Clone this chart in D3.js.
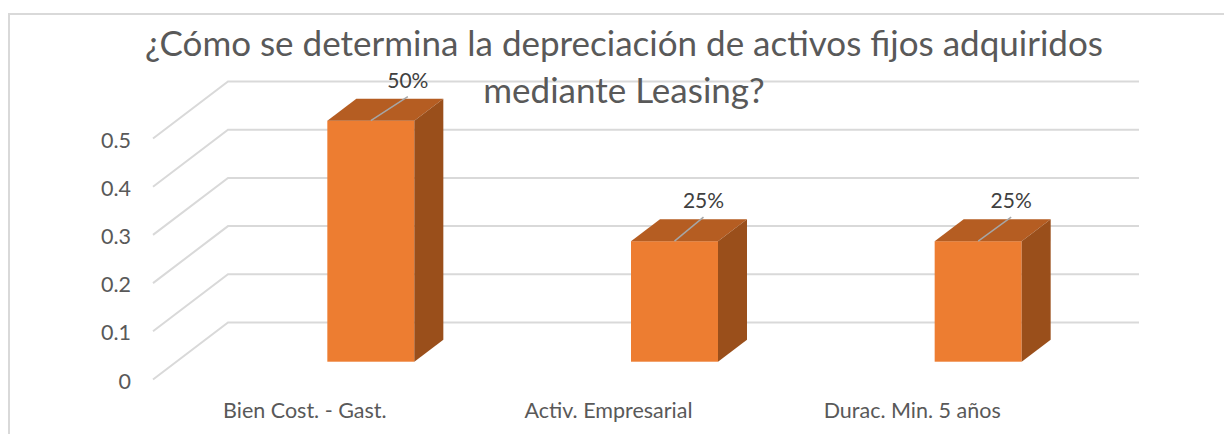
<!doctype html>
<html lang="es">
  <head>
    <meta charset="utf-8">
    <title>Depreciación de activos fijos</title>
    <style>
      * { margin: 0; padding: 0; }
      body { width: 1224px; height: 434px; overflow: hidden; background: #fff; }
      svg { display: block; font-family: Lato, "Open Sans", sans-serif; }
    </style>
    <script src="https://cdn.jsdelivr.net/npm/d3@7"></script>
  </head>
  <body>
    <svg width="1224" height="434"></svg>
    <script>
      const categories = ["Bien Cost. - Gast.", "Activ. Empresarial", "Durac. Min. 5 años"];
      const values = [0.5, 0.25, 0.25];
      const valueLabels = ["50%", "25%", "25%"];
      const yTicks = [0, 0.1, 0.2, 0.3, 0.4, 0.5];
      const titleLines = ["¿Cómo se determina la depreciación de activos fijos adquiridos", "mediante Leasing?"];

      const colors = { front: "#ed7d31", top: "#b55d22", side: "#9a4f1b", grid: "#d9d9d9", text: "#595959", label: "#404040", leader: "#a6a6a6" };

      // fake 3d: floor depth of the plot, and of the bars
      const wallDx = 75, wallDy = -57;
      const barDx = 29, barDy = -22;
      const barW = 87;
      const barShiftX = 66, barShiftY = -17.8;
      // the data labels were dragged by hand in the original
      const leaderDx = [37, 29, 33];

      const svg = d3.select("svg");

      const x = d3.scaleBand().domain(categories).range([153, 1064]);
      const y = d3.scaleLinear().domain([0, 0.5]).range([379.5, 138.5]);

      // outer frame, only top and left are visible
      svg.append("path")
        .attr("d", "M9,434V14H1224")
        .attr("fill", "none")
        .attr("stroke", colors.grid)
        .attr("stroke-width", 2);

      // gridlines
      const grid = svg.append("g").attr("fill", "none").attr("stroke", colors.grid).attr("stroke-width", 2);
      grid.selectAll("path").data(yTicks).join("path")
        .attr("d", d => `M${x.range()[0]},${y(d)}L${x.range()[0] + wallDx},${y(d) + wallDy}H${x.range()[1] + wallDx}`);

      // axes
      const yAxis = svg.append("g")
        .attr("transform", "translate(138,0)")
        .call(d3.axisLeft(y).tickValues(yTicks).tickSize(0).tickPadding(7).tickFormat(d => d));
      const xAxis = svg.append("g")
        .attr("transform", "translate(0,403)")
        .call(d3.axisBottom(x).tickSize(0).tickPadding(0));
      yAxis.select(".domain").remove();
      xAxis.select(".domain").remove();
      yAxis.attr("font-family", null);
      xAxis.attr("font-family", null);
      yAxis.selectAll("text").attr("font-size", 21.5).attr("fill", colors.text).attr("dy", "0.4em");
      xAxis.selectAll("text").attr("font-size", 21.5).attr("fill", colors.text);

      // bars
      const bars = svg.append("g").selectAll("g").data(categories).join("g")
        .attr("transform", d => `translate(${x(d) + x.bandwidth() / 2 + barShiftX - barW / 2},${barShiftY})`);

      bars.append("rect")
        .attr("width", barW)
        .attr("y", (d, i) => y(values[i]))
        .attr("height", (d, i) => y(0) - y(values[i]))
        .attr("fill", colors.front);
      bars.append("path")
        .attr("fill", colors.top)
        .attr("d", (d, i) => `M0,${y(values[i])}l${barDx},${barDy}h${barW}l${-barDx},${-barDy}z`);
      bars.append("path")
        .attr("fill", colors.side)
        .attr("d", (d, i) => `M${barW},${y(values[i])}l${barDx},${barDy}V${y(0) + barDy}L${barW},${y(0)}z`);

      // leader lines and data labels
      bars.append("line")
        .attr("x1", barW / 2)
        .attr("y1", (d, i) => y(values[i]))
        .attr("x2", (d, i) => barW / 2 + leaderDx[i])
        .attr("y2", (d, i) => y(values[i]) - 24)
        .attr("stroke", colors.leader)
        .attr("stroke-width", 1.5);
      bars.append("text")
        .attr("x", (d, i) => barW / 2 + leaderDx[i])
        .attr("y", (d, i) => y(values[i]) - 33)
        .attr("text-anchor", "middle")
        .attr("font-size", 21)
        .attr("fill", colors.label)
        .text((d, i) => valueLabels[i]);

      // title sits on top of everything
      svg.append("g").selectAll("text").data(titleLines).join("text")
        .attr("x", 624)
        .attr("y", (d, i) => 55.5 + i * 47)
        .attr("text-anchor", "middle")
        .attr("font-size", 35)
        .attr("fill", colors.text)
        .text(d => d);
    </script>
  </body>
</html>
